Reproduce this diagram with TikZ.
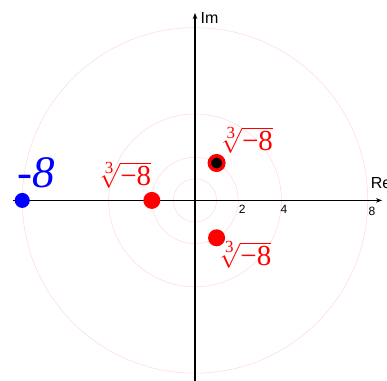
\documentclass[tikz,border=0pt]{standalone}
\usepackage{fontspec}
\setsansfont{Liberation Sans}
\newfontfamily\timesit{Liberation Serif}
\usetikzlibrary{arrows.meta}

\newcommand\cuberoot{$\sqrt[\hbox{\timesit\fontsize{17}{17}\selectfont 3}]{\hbox{\timesit −8}}$}

\tikzset{
  ring/.style={draw=red!15, line width=0.5pt},
  axis/.style={-{Stealth[length=6pt,width=4.5pt]}, line width=1.4pt},
  rootdot/.style={circle, fill=red, minimum size=17pt, inner sep=0pt},
  rootlabel/.style={text=red, inner sep=0pt,
    font=\fontsize{29}{29}\selectfont},
  ticklabel/.style={inner sep=0pt, font=\sffamily\fontsize{12}{12}\selectfont},
  axislabel/.style={inner sep=0pt, font=\sffamily\fontsize{16}{16}\selectfont},
}

\begin{document}
\begin{tikzpicture}[x=21.6pt, y=21.6pt]

        \useasboundingbox (-9.03,-8.36) rectangle (8.89,9.28);

        % Circles |z| = 1, 2, 4, 8
        \foreach \r in {1,2,4,8}
          \draw[ring] (0,0) circle (\r);

        % Axes
        \coordinate (xl) at (-8.43,0);
        \coordinate (xr) at (8.66,0);
        \coordinate (yb) at (0,-8.5);
        \coordinate (yt) at (0,8.68);
        \draw[axis] (xl) -- (xr);
        \draw[axis] (yb) -- (yt);
        \node[axislabel, anchor=west] (im) at (0.25,8.43) {Im};
        \node[axislabel, anchor=west] (re) at (8.13,0.8) {Re};

        % Ticks
        \node[ticklabel] (t2) at (2.18,-0.42) {2};
        \node[ticklabel] (t4) at (4.12,-0.42) {4};
        \node[ticklabel] (t8) at (8.19,-0.5) {8};

        % Points
        \node[circle, fill=blue, minimum size=15pt, inner sep=0pt] (z) at (-8,0) {};
        \node[rootdot] (w0) at (-2,0) {};
        \node[rootdot, fill=black, draw=red, line width=3.5pt,
              minimum size=14.5pt] (w1) at (1,1.732) {};
        \node[rootdot] (w2) at (1,-1.732) {};

        % Labels
        \node[text=blue, inner sep=0pt,
              font=\timesit\fontsize{45}{45}\selectfont\itshape]
          (lz) at (-7.36,1.27) {-8};
        \node[rootlabel] (l0) at (-3.26,1.18) {\cuberoot};
        \node[rootlabel] (l1) at (2.38,2.80) {\cuberoot};
        \node[rootlabel] (l2) at (2.30,-2.52) {\cuberoot};

    \end{tikzpicture}
\end{document}
